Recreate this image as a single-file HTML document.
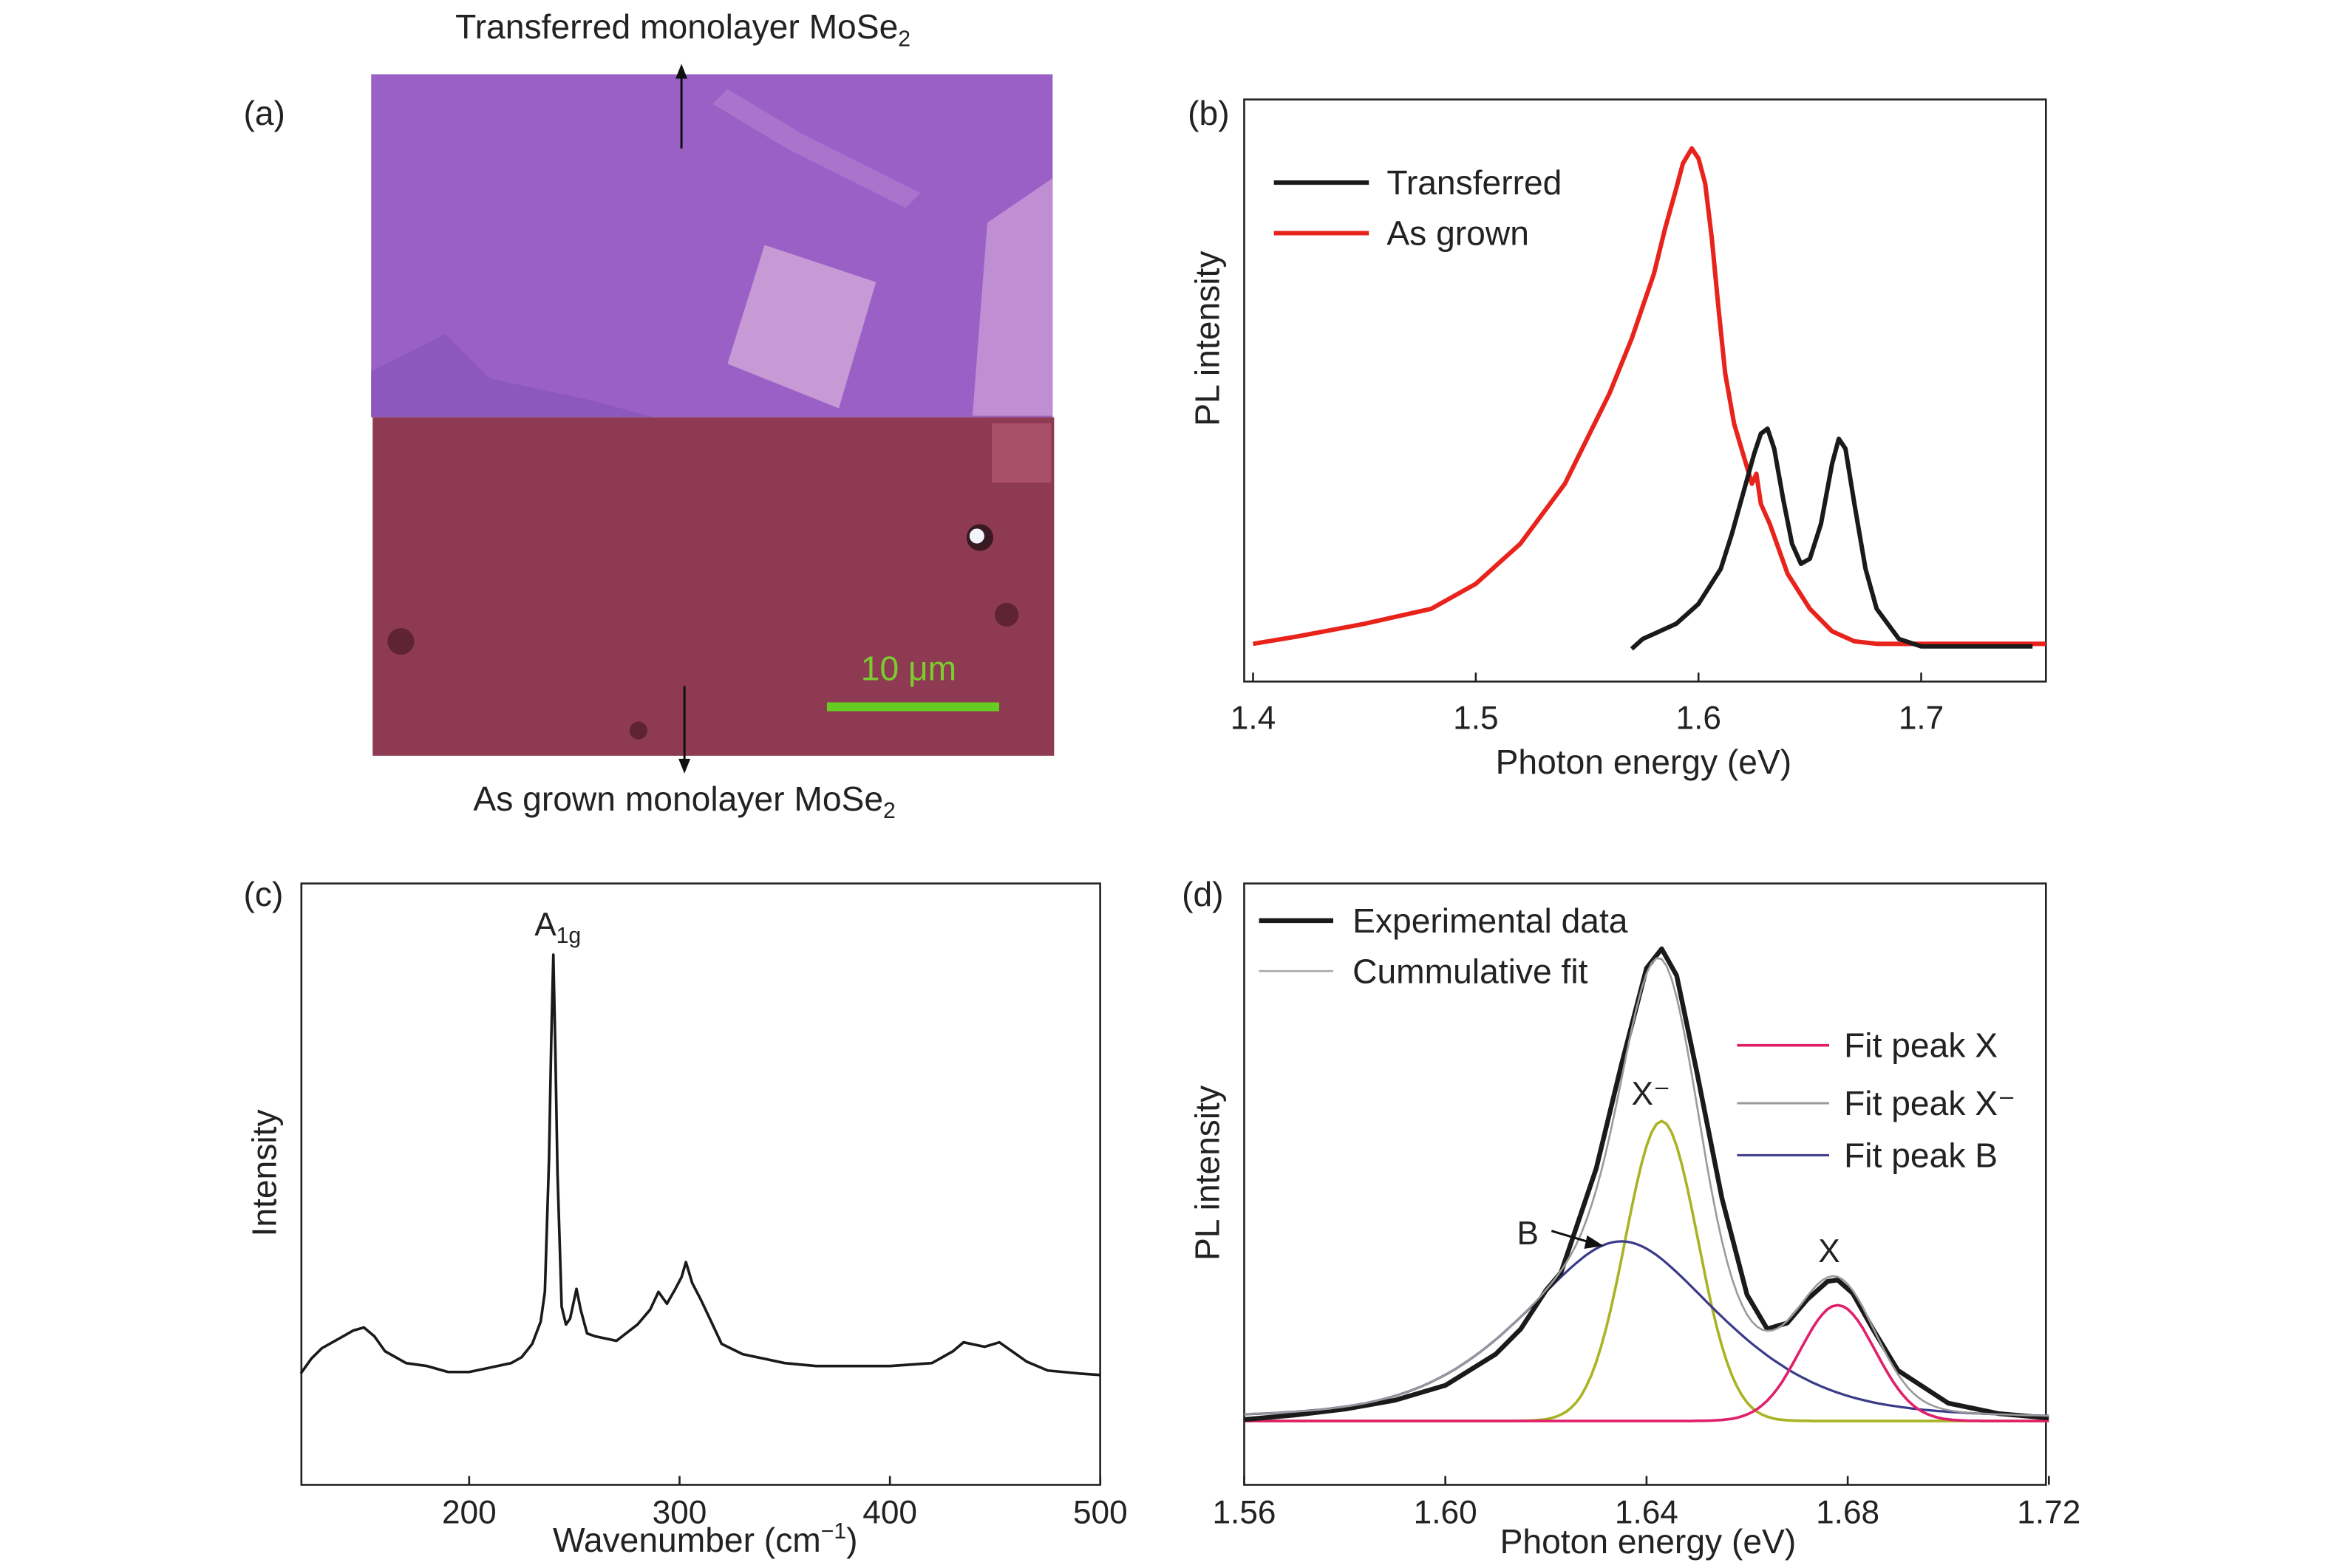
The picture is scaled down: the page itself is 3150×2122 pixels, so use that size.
<!DOCTYPE html>
<html><head><meta charset="utf-8"><style>
html,body{margin:0;padding:0;background:#fff}
svg{display:block}
text{font-family:"Liberation Sans",sans-serif;fill:#222}
</style></head><body>
<svg id="fig" width="3150" height="2122" viewBox="0 0 1568 1056" preserveAspectRatio="none" xmlns="http://www.w3.org/2000/svg">
<rect width="1568" height="1056" fill="#fff"/>
<g>
<text x="164" y="84" font-size="23">(a)</text>
<rect x="250" y="50" width="459" height="231" fill="#9a60c6"/>
<polygon points="515,165 590,190 565,275 490,245" fill="#c79ad6"/>
<polygon points="665,150 709,120 709,280 655,280" fill="#c08fd3"/>
<polygon points="250,250 300,225 330,255 400,270 440,281 250,281" fill="#8c58bd"/>
<polygon points="490,60 540,90 620,130 610,140 530,100 480,70" fill="#a874cc"/>
<rect x="251" y="281" width="459" height="228" fill="#8e3a52"/>
<circle cx="270" cy="432" r="9" fill="#5e2434"/>
<circle cx="678" cy="414" r="8" fill="#5e2434"/>
<circle cx="430" cy="492" r="6" fill="#5e2434"/>
<circle cx="660" cy="362" r="9" fill="#3a1a22"/>
<circle cx="658" cy="361" r="5" fill="#f4f4ff"/>
<rect x="668" y="285" width="40" height="40" fill="#a85068"/>
<line x1="459" y1="100" x2="459" y2="50" stroke="#111" stroke-width="1.5"/>
<polygon points="459,43 455,53 463,53" fill="#111"/>
<line x1="461" y1="462" x2="461" y2="514" stroke="#111" stroke-width="1.5"/>
<polygon points="461,521 457,511 465,511" fill="#111"/>
<line x1="557" y1="476" x2="673" y2="476" stroke="#66cc22" stroke-width="6"/>
<text x="612" y="458" font-size="23" text-anchor="middle" style="fill:#7ccc30">10 μm</text>
<text x="460" y="26" font-size="23" text-anchor="middle">Transferred monolayer MoSe<tspan font-size="15" dy="5">2</tspan></text>
<text x="461" y="546" font-size="23" text-anchor="middle">As grown monolayer MoSe<tspan font-size="15" dy="5">2</tspan></text>
</g>
<g id="pb"></g>
<g id="pc"></g>
<g id="pd"></g>
</svg>
<script>
const NS="http://www.w3.org/2000/svg";
function mk(p,tag,attrs,txt){const e=document.createElementNS(NS,tag);for(const k in attrs)e.setAttribute(k,attrs[k]);if(txt!==undefined)e.textContent=txt;p.appendChild(e);return e;}
function poly(xs,ys){return xs.map((x,i)=>x.toFixed(1)+","+ys[i].toFixed(1)).join(" ");}

// ---- Panel b data ----
const bTicks=[1.4,1.5,1.6,1.7];
const bRedE=[1.40,1.42,1.45,1.48,1.50,1.52,1.54,1.56,1.57,1.58,1.585,1.59,1.593,1.597,1.60,1.603,1.606,1.609,1.612,1.616,1.62,1.624,1.626,1.628,1.632,1.64,1.65,1.66,1.67,1.68,1.70,1.756];
const bRedI=[0.01,0.025,0.05,0.08,0.13,0.21,0.33,0.51,0.62,0.75,0.84,0.92,0.97,1.0,0.98,0.93,0.82,0.68,0.55,0.45,0.39,0.33,0.35,0.29,0.25,0.15,0.08,0.035,0.015,0.01,0.01,0.01];
const bBlkE=[1.57,1.575,1.58,1.59,1.60,1.61,1.615,1.62,1.625,1.628,1.631,1.634,1.638,1.642,1.646,1.65,1.655,1.66,1.663,1.666,1.67,1.675,1.68,1.69,1.70,1.75];
const bBlkI=[0.0,0.02,0.03,0.05,0.09,0.16,0.23,0.31,0.39,0.43,0.44,0.40,0.30,0.21,0.17,0.18,0.25,0.37,0.42,0.40,0.29,0.16,0.08,0.02,0.005,0.005];
// ---- Panel c data ----
const cTicks=[200,300,400,500];
const cW=[120,125,130,140,145,150,155,160,170,180,190,200,210,220,225,230,234,236,238,239,240,241,242,244,246,248,251,253,256,260,270,280,286,290,294,298,301,303,306,310,315,320,330,340,350,365,380,400,420,430,435,445,452,458,465,475,490,500];
const cI=[75,85,92,100,104,106,100,90,82,80,76,76,79,82,86,95,110,130,220,300,357,290,210,120,108,112,132,118,102,100,97,108,118,130,122,132,140,150,136,125,110,95,88,85,82,80,80,80,82,90,96,93,96,90,83,77,75,74];
// ---- Panel d data ----
const dTicks=[1.56,1.60,1.64,1.68,1.72];
const dCenters=[1.678,1.643,1.635];
const dHeights=[78,202,121];
const dWidths=[0.0075,0.0072,0.021];
const dE=[1.56,1.57,1.58,1.59,1.60,1.61,1.615,1.62,1.623,1.625,1.63,1.635,1.64,1.643,1.646,1.65,1.655,1.66,1.664,1.668,1.672,1.676,1.678,1.681,1.685,1.69,1.70,1.71,1.72];
const dI=[1,4,8,14,24,45,62,88,100,120,170,240,305,318,300,235,150,85,62,66,82,94,95,86,62,34,12,5,2];

// ---- Panel b ----
(function(){
 const g=document.getElementById('pb');
 const L=838,R=1378,T=67,B=459,y0=437,yTop=100;
 const x=e=>844+(e-1.4)*1500, y=v=>y0-v*(y0-yTop);
 mk(g,'rect',{x:L,y:T,width:R-L,height:B-T,fill:'none',stroke:'#222','stroke-width':1.3,});
 bTicks.forEach(t=>{const l=mk(g,'line',{x1:x(t),x2:x(t),y1:B,y2:B-6,stroke:'#222','stroke-width':1.3});
  
  const tx=mk(g,'text',{x:x(t),y:B+32,'font-size':22,'text-anchor':'middle'},t.toFixed(1));
  });
 const red=mk(g,'polyline',{points:poly(bRedE.map(x),bRedI.map(y)),fill:'none',stroke:'#e8231c','stroke-width':3,'stroke-linejoin':'round'});
 
 const blk=mk(g,'polyline',{points:poly(bBlkE.map(x),bBlkI.map(y)),fill:'none',stroke:'#1a1a1a','stroke-width':3,'stroke-linejoin':'round'});
 
 const t1=mk(g,'text',{x:800,y:84,'font-size':23},'(b)');
 const yl=mk(g,'text',{x:0,y:0,'font-size':23,'text-anchor':'middle',transform:'translate(821,228) rotate(-90)'},'PL intensity');
 
 const xl=mk(g,'text',{x:1107,y:521,'font-size':23,'text-anchor':'middle'},'Photon energy (eV)');
 
 const le1=mk(g,'line',{x1:858,x2:922,y1:123,y2:123,stroke:'#1a1a1a','stroke-width':3});
 const lt1=mk(g,'text',{x:934,y:131,'font-size':23},'Transferred');
 const le2=mk(g,'line',{x1:858,x2:922,y1:157,y2:157,stroke:'#e8231c','stroke-width':3});
 const lt2=mk(g,'text',{x:934,y:165,'font-size':23},'As grown');
})();

// ---- Panel c ----
(function(){
 const g=document.getElementById('pc');
 const L=203,R=741,T=595,B=1000;
 const x=w=>316+(w-200)*1.417, y=v=>1000-v;
 mk(g,'rect',{x:L,y:T,width:R-L,height:B-T,fill:'none',stroke:'#222','stroke-width':1.3,});
 cTicks.forEach(t=>{const l=mk(g,'line',{x1:x(t),x2:x(t),y1:B,y2:B-6,stroke:'#222','stroke-width':1.3});
  
  const tx=mk(g,'text',{x:x(t),y:B+26,'font-size':22,'text-anchor':'middle'},String(t));
  });
 const s=mk(g,'polyline',{points:poly(cW.map(x),cI.map(y)),fill:'none',stroke:'#1a1a1a','stroke-width':1.8,'stroke-linejoin':'round'});
 
 const t1=mk(g,'text',{x:164,y:610,'font-size':23},'(c)');
 const yl=mk(g,'text',{x:0,y:0,'font-size':23,'text-anchor':'middle',transform:'translate(186,790) rotate(-90)'},'Intensity');
 
 const xl=mk(g,'text',{x:475,y:1045,'font-size':23,'text-anchor':'middle'});
 xl.innerHTML='Wavenumber (cm<tspan font-size="15" dy="-9">−1</tspan><tspan dy="9">)</tspan>';
 
 const a=mk(g,'text',{x:360,y:630,'font-size':22});a.innerHTML='A<tspan font-size="15" dy="5">1g</tspan>';
 
})();

// ---- Panel d ----
(function(){
 const g=document.getElementById('pd');
 const L=838,R=1378,T=595,B=1000,y0=957;
 const x=e=>838+(e-1.56)*3387.5, y=v=>y0-v;
 mk(g,'rect',{x:L,y:T,width:R-L,height:B-T,fill:'none',stroke:'#222','stroke-width':1.3,});
 dTicks.forEach(t=>{const l=mk(g,'line',{x1:x(t),x2:x(t),y1:B,y2:B-6,stroke:'#222','stroke-width':1.3});
  
  const tx=mk(g,'text',{x:x(t),y:B+26,'font-size':22,'text-anchor':'middle'},t.toFixed(2));
  });
 const gauss=(e,i)=>dHeights[i]*Math.exp(-Math.pow(e-dCenters[i],2)/(2*dWidths[i]*dWidths[i]));
 const voigt=(e,i)=>0.5*dHeights[i]/(1+Math.pow((e-dCenters[i])/dWidths[i],2))+0.5*gauss(e,i);
 const es=[];for(let e=1.56;e<=1.7201;e+=0.001)es.push(e);
 const fX=es.map(e=>gauss(e,0)), fXm=es.map(e=>gauss(e,1)), fB=es.map(e=>voigt(e,2));
 const cum=es.map((e,k)=>fX[k]+fXm[k]+fB[k]);
 const ex=es.map(x);
 const p1=mk(g,'polyline',{points:poly(ex,fXm.map(y)),fill:'none',stroke:'#a8b424','stroke-width':1.8});
 const p2=mk(g,'polyline',{points:poly(ex,fB.map(y)),fill:'none',stroke:'#3a3a8a','stroke-width':1.6});
 const p3=mk(g,'polyline',{points:poly(ex,fX.map(y)),fill:'none',stroke:'#e0206a','stroke-width':1.8});
 const p4=mk(g,'polyline',{points:poly(dE.map(x),dI.map(y)),fill:'none',stroke:'#1a1a1a','stroke-width':3.2,'stroke-linejoin':'round'});
 const p5=mk(g,'polyline',{points:poly(ex,cum.map(y)),fill:'none',stroke:'#9a9a9a','stroke-width':1.3});
 const t1=mk(g,'text',{x:796,y:610,'font-size':23},'(d)');
 const yl=mk(g,'text',{x:0,y:0,'font-size':23,'text-anchor':'middle',transform:'translate(821,790) rotate(-90)'},'PL intensity');
 
 const xl=mk(g,'text',{x:1110,y:1046,'font-size':23,'text-anchor':'middle'},'Photon energy (eV)');
 
 const leg=[[848,898,620,'#1a1a1a',3.2,911,628,'Experimental data','legend-entry-experimental'],
            [848,898,654,'#aaaaaa',1.3,911,662,'Cummulative fit','legend-entry-cumulative'],
            [1170,1232,704,'#e0206a',1.8,1242,712,'Fit peak X','legend-entry-peak-x'],
            [1170,1232,743,'#9a9a9a',1.5,1242,751,'Fit peak X⁻','legend-entry-peak-x-minus'],
            [1170,1232,778,'#3a3a8a',1.5,1242,786,'Fit peak B','legend-entry-peak-b']];
 leg.forEach(r=>{const l=mk(g,'line',{x1:r[0],x2:r[1],y1:r[2],y2:r[2],stroke:r[3],'stroke-width':r[4]});
  
  const t=mk(g,'text',{x:r[5],y:r[6],'font-size':23},r[7]);
  });
 const a1=mk(g,'text',{x:1112,y:744,'font-size':22,'text-anchor':'middle'},'X⁻');
 const a2=mk(g,'text',{x:1029,y:838,'font-size':22,'text-anchor':'middle'},'B');
 const a3=mk(g,'text',{x:1232,y:850,'font-size':22,'text-anchor':'middle'},'X');
 const ar=mk(g,'line',{x1:1045,y1:829,x2:1072,y2:837,stroke:'#111','stroke-width':1.5});
 const ah=mk(g,'polygon',{points:'1080,839 1069,832 1067,841',fill:'#111'});
})();
</script>
</body></html>
